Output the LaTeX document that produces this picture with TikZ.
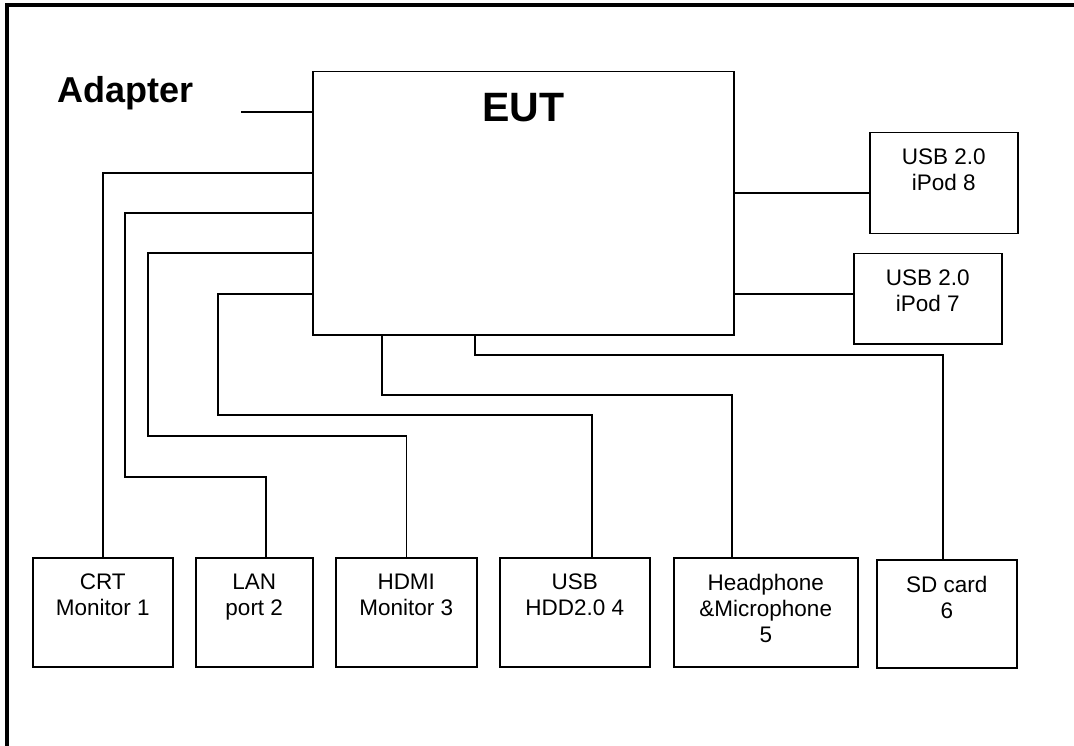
\documentclass[tikz,border=0pt]{standalone}
\usepackage{fontspec}
\setmainfont{Liberation Sans}
\usetikzlibrary{positioning}

\tikzset{
  devbox/.style={draw, line width=1.5pt, inner sep=0pt, anchor=north west},
  devtext/.style={font=\fontsize{22.5}{26}\selectfont, align=center, inner sep=0pt, anchor=north, yshift=-17pt},
  cable/.style={line width=1.5pt},
}

\begin{document}
\begin{tikzpicture}[x=1pt, y=-1pt]
  \useasboundingbox (0,0) rectangle (1074,746);
  % frame
  \draw[line width=3.5pt] (7,746) -- (7,5) -- (1074,5);

  \node[font=\bfseries\fontsize{36}{36}\selectfont, anchor=base west, inner sep=0pt] (adapter) at (57,103) {Adapter};
  \node[devbox, minimum width=421, minimum height=263,
        label={[font=\bfseries\fontsize{41}{41}\selectfont, inner sep=0pt, anchor=north, yshift=-22pt]north:EUT}] (eut) at (312,71) {};

  % devices
  \foreach \name/\x/\y/\w/\h/\txt in {
      crt/32/557/140/109/{CRT\\Monitor 1},
      lan/195/557/117/109/{LAN\\port 2},
      hdmi/335/557/141/109/{HDMI\\Monitor 3},
      usbhdd/499/557/150/109/{USB\\HDD2.0 4},
      headphone/673/557/184/109/{Headphone\\\&Microphone\\5},
      sdcard/876/559/140/108/{SD card\\6},
      ipod8/869/132/148/101/{USB 2.0\\iPod 8},
      ipod7/853/253/148/90/{USB 2.0\\iPod 7}} {
    \node[devbox, minimum width=\w, minimum height=\h, label={[devtext]north:{\txt}}] (\name) at (\x,\y) {};
  }

  % cables
  \coordinate (adp) at (241,112);
  \draw[cable] (adp) -- (adp -| eut.west);
  \draw[cable] ([yshift=-102pt]eut.north west) -| (crt.north);
  \draw[cable] ([yshift=-142pt]eut.north west) -| (125,477) -| ([xshift=71pt]lan.north west);
  \draw[cable] ([yshift=-182pt]eut.north west) -| (148,436) -| (hdmi.north);
  \draw[cable] ([yshift=-223pt]eut.north west) -| (218,415) -| ([xshift=93pt]usbhdd.north west);
  \draw[cable] ([xshift=70pt]eut.south west) |- (732,395) -- ([xshift=59pt]headphone.north west);
  \draw[cable] ([xshift=163pt]eut.south west) |- (943,355) -- ([xshift=67pt]sdcard.north west);
  \draw[cable] ([yshift=-122pt]eut.north east) coordinate (r8) -- (r8 -| ipod8.west);
  \draw[cable] ([yshift=-223pt]eut.north east) coordinate (r7) -- (r7 -| ipod7.west);
\end{tikzpicture}
\end{document}
